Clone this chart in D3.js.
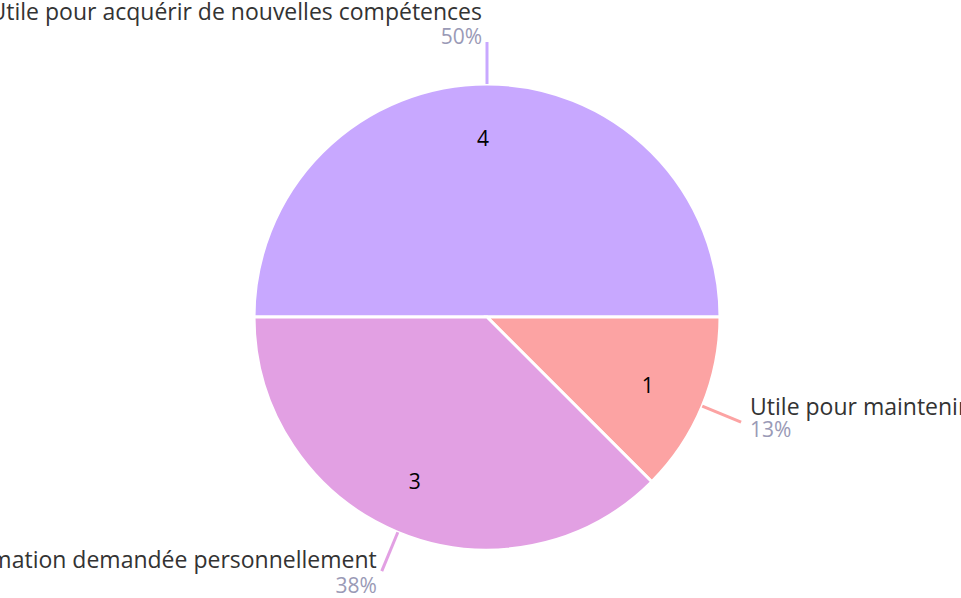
<!DOCTYPE html>
<html lang="fr">
<head>
<meta charset="UTF-8" />
<title>Pie</title>
<script src="https://d3js.org/d3.v7.min.js"></script>
<style>
  body { margin: 0; background: #fff; overflow: hidden; }
  svg { display: block; font-family: "Open Sans", "Noto Sans", sans-serif; }
</style>
</head>
<body>
<svg width="961" height="598"></svg>
<script>
  const width = 961, height = 598;

  const labels = [
    "Utile pour acquérir de nouvelles compétences",
    "Utile pour maintenir mes compétences",
    "Formation demandée personnellement"
  ];
  const counts = [4, 1, 3];
  const percents = ["50%", "13%", "38%"];
  const colors = ["#c8a8ff", "#fca3a3", "#e2a0e3"];

  const cx = 487, cy = 317, radius = 233;

  const svg = d3.select("svg");
  const g = svg.append("g").attr("transform", `translate(${cx},${cy})`);

  const pie = d3.pie().sort(null).value(d => d)
    .startAngle(-Math.PI / 2).endAngle(Math.PI * 1.5);
  const arcs = pie(counts);

  const arc = d3.arc().innerRadius(0).outerRadius(radius);
  const labelArc = d3.arc().innerRadius(radius * 0.765).outerRadius(radius * 0.765);

  g.selectAll("path.slice")
    .data(arcs)
    .join("path")
    .attr("class", "slice")
    .attr("d", arc)
    .attr("fill", (d, i) => colors[i])
    .attr("stroke", "#fff")
    .attr("stroke-width", 3);

  g.selectAll("text.count")
    .data(arcs)
    .join("text")
    .attr("class", "count")
    .attr("transform", d => `translate(${labelArc.centroid(d)})`)
    .attr("text-anchor", "middle")
    .attr("dx", -4)
    .attr("dy", "0.36em")
    .attr("font-size", 21)
    .attr("fill", "#000")
    .text(d => d.data);

  // leader lines + outer labels
  const point = (a, r) => [Math.sin(a) * r, -Math.cos(a) * r];

  arcs.forEach((d, i) => {
    const mid = (d.startAngle + d.endAngle) / 2;
    const p0 = point(mid, radius);
    const p1 = point(mid, radius + 42);
    g.append("line")
      .attr("x1", p0[0]).attr("y1", p0[1])
      .attr("x2", p1[0]).attr("y2", p1[1])
      .attr("stroke", colors[i])
      .attr("stroke-width", 3);

    const s = Math.sin(mid), c = -Math.cos(mid);
    let x, y1, y2, anchor;
    if (Math.abs(s) < 0.3 && c < 0) {
      // top
      anchor = "end"; x = p1[0] - 5; y1 = p1[1] - 22; y2 = p1[1] + 2;
    } else if (s > 0) {
      anchor = "start"; x = p1[0] + 9; y1 = p1[1] - 7; y2 = p1[1] + 15;
    } else {
      anchor = "end"; x = p1[0] - 5; y1 = p1[1] - 3; y2 = p1[1] + 22;
    }
    g.append("text")
      .attr("x", x).attr("y", y1)
      .attr("text-anchor", anchor)
      .attr("font-size", 23)
      .attr("fill", "#333")
      .text(labels[i]);
    g.append("text")
      .attr("x", x).attr("y", y2)
      .attr("text-anchor", anchor)
      .attr("font-size", 21)
      .attr("fill", "#9a9ab6")
      .text(percents[i]);
  });
</script>
</body>
</html>
